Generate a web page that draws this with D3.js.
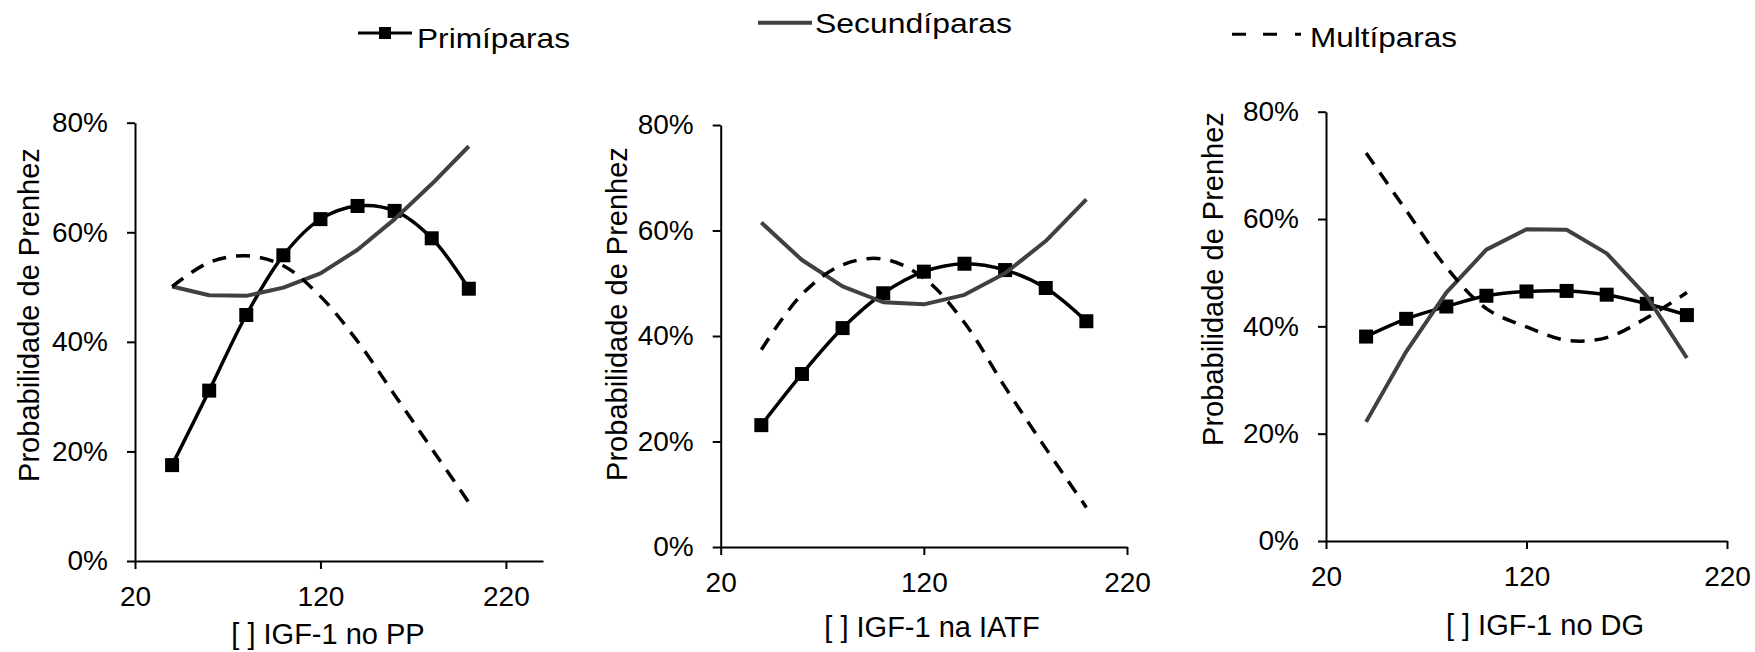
<!DOCTYPE html>
<html>
<head>
<meta charset="utf-8">
<script src="https://cdn.jsdelivr.net/npm/d3@7"></script>
<style>
  body { margin: 0; background: #fff; }
  svg { display: block; }
  text { font-family: "Liberation Sans", Arial, sans-serif; fill: #000; }
</style>
</head>
<body>
<div id="chart"></div>
<script>
// IGF-1 concentration at each point
var igf = [40, 60, 80, 100, 120, 140, 160, 180, 200];
var xTicks = [20, 120, 220];
var yTicks = [0, 0.2, 0.4, 0.6, 0.8];
var xTitles = ["[ ] IGF-1 no PP", "[ ] IGF-1 na IATF", "[ ] IGF-1 no DG"];
var yTitle = "Probabilidade de Prenhez";
var seriesNames = ["Primíparas", "Secundíparas", "Multíparas"];

// pregnancy probability (%) per panel: PP, IATF, DG
var primiparas = [
  [17.5, 31.1, 44.9, 55.8, 62.4, 64.8, 63.9, 58.9, 49.7],
  [23.1, 32.8, 41.5, 48.1, 52.2, 53.7, 52.5, 49.1, 42.8],
  [38.1, 41.4, 43.7, 45.7, 46.5, 46.6, 45.9, 44.2, 42.1]
];
var secundiparas = [
  [50.1, 48.5, 48.4, 49.9, 52.5, 56.8, 62.4, 68.8, 75.7],
  [61.5, 54.4, 49.4, 46.4, 46.0, 47.8, 51.9, 58.0, 65.9],
  [22.2, 35.3, 46.3, 54.3, 58.1, 58.0, 53.6, 45.6, 34.1]
];
var multiparas = [
  [50.1, 54.5, 55.7, 53.9, 48.3, 40.1, 30.3, 20.5, 10.7],
  [37.4, 47.9, 53.5, 54.6, 51.0, 42.5, 30.3, 18.7, 7.5],
  [72.3, 61.6, 51.0, 43.3, 39.9, 37.4, 37.9, 41.6, 46.3]
];
var xMax = [240, 220, 220];

// plot boxes (pixels)
var panels = [
  { left: 135, right: 543, bottom: 561, top: 122.7, tx: 328, ty: 644, yx: 39, yy: 315 },
  { left: 720.7, right: 1127, bottom: 547, top: 125, tx: 932, ty: 637, yx: 627, yy: 314 },
  { left: 1326, right: 1727, bottom: 541, top: 111.7, tx: 1545, ty: 635, yx: 1223, yy: 279 }
];

var width = 1755, height = 652;

var svg = d3.select("#chart").append("svg")
  .attr("width", width)
  .attr("height", height);

var styles = [
  { stroke: "#000", width: 3.5, dash: null, curve: d3.curveCatmullRom, marker: true },
  { stroke: "#404040", width: 4, dash: null, curve: d3.curveLinear, marker: false },
  { stroke: "#000", width: 3.5, dash: "14,10", curve: d3.curveCatmullRom, marker: false }
];

panels.forEach(function (p, i) {
  var x = d3.scaleLinear().domain([20, xMax[i]]).range([p.left, p.right]);
  var y = d3.scaleLinear().domain([0, 0.8]).range([p.bottom, p.top]);

  var g = svg.append("g");

  var yAxis = g.append("g")
    .attr("transform", "translate(" + p.left + ",0)")
    .call(d3.axisLeft(y).tickValues(yTicks).tickFormat(d3.format(".0%"))
      .tickSize(8).tickSizeOuter(0).tickPadding(19));

  var xAxis = g.append("g")
    .attr("transform", "translate(0," + p.bottom + ")")
    .call(d3.axisBottom(x).tickValues(xTicks).tickFormat(d3.format("d"))
      .tickSize(8).tickSizeOuter(0).tickPadding(17));

  [yAxis, xAxis].forEach(function (a) {
    a.select(".domain").attr("stroke", "#000").attr("stroke-width", 2);
    a.selectAll(".tick line").attr("stroke", "#000").attr("stroke-width", 2);
    a.selectAll("text").attr("font-size", 28).attr("fill", "#000")
      .style("font-family", "'Liberation Sans', Arial, sans-serif");
  });

  g.append("text")
    .attr("x", p.tx).attr("y", p.ty)
    .attr("text-anchor", "middle")
    .attr("font-size", 29)
    .text(xTitles[i]);

  g.append("text")
    .attr("transform", "translate(" + p.yx + "," + p.yy + ") rotate(-90)")
    .attr("text-anchor", "middle")
    .attr("font-size", 29)
    .text(yTitle);

  var sets = [primiparas[i], secundiparas[i], multiparas[i]];
  sets.forEach(function (vals, s) {
    var st = styles[s];
    var pts = igf.map(function (v, k) { return [v, vals[k] / 100]; });
    var line = d3.line()
      .x(function (d) { return x(d[0]); })
      .y(function (d) { return y(d[1]); })
      .curve(st.curve);

    g.append("path")
      .datum(pts)
      .attr("d", line)
      .attr("fill", "none")
      .attr("stroke", st.stroke)
      .attr("stroke-width", st.width)
      .attr("stroke-dasharray", st.dash)
      .attr("stroke-linejoin", "round");

    if (st.marker) {
      g.selectAll(".mk" + s)
        .data(pts)
        .enter().append("rect")
        .attr("x", function (d) { return x(d[0]) - 7; })
        .attr("y", function (d) { return y(d[1]) - 7; })
        .attr("width", 14)
        .attr("height", 14)
        .attr("fill", "#000");
    }
  });
});

// legend
var legend = [
  { x1: 358, x2: 412, ly: 33, tx: 417, ty: 48, len: 153 },
  { x1: 758, x2: 812, ly: 22.7, tx: 815, ty: 33, len: 197 },
  { x1: 1232, x2: 1302, ly: 34.3, tx: 1310, ty: 47, len: 147 }
];
var legendDash = [null, null, "14,17,14,18,6"];

legend.forEach(function (l, s) {
  var st = styles[s];
  svg.append("line")
    .attr("x1", l.x1).attr("x2", l.x2)
    .attr("y1", l.ly).attr("y2", l.ly)
    .attr("stroke", st.stroke)
    .attr("stroke-width", s === 1 ? 4 : 3)
    .attr("stroke-dasharray", legendDash[s]);
  if (st.marker) {
    svg.append("rect")
      .attr("x", (l.x1 + l.x2) / 2 - 6).attr("y", l.ly - 6)
      .attr("width", 12).attr("height", 12)
      .attr("fill", "#000");
  }
  svg.append("text")
    .attr("x", l.tx).attr("y", l.ty)
    .attr("font-size", 28)
    .attr("textLength", l.len)
    .attr("lengthAdjust", "spacingAndGlyphs")
    .text(seriesNames[s]);
});
</script>
</body>
</html>
